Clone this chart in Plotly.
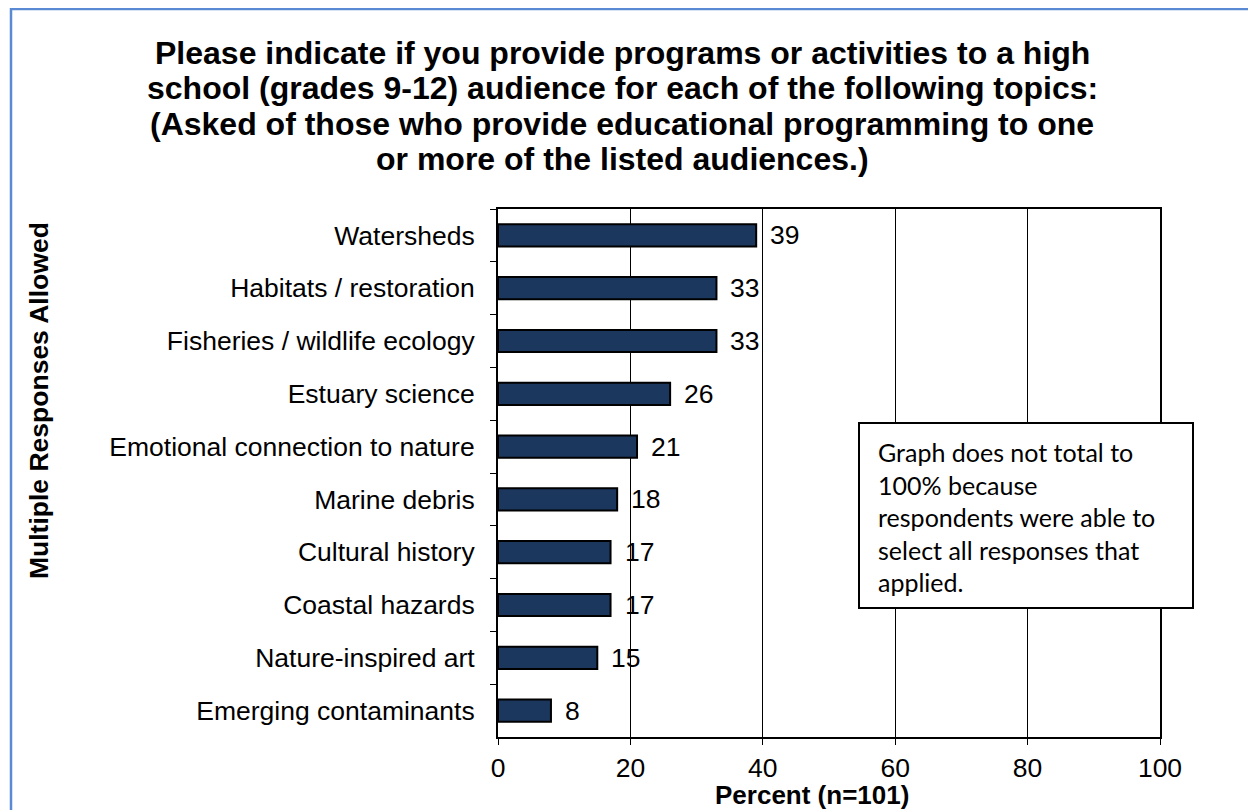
import plotly.graph_objects as go

categories = [
    "Watersheds",
    "Habitats / restoration",
    "Fisheries / wildlife ecology",
    "Estuary science",
    "Emotional connection to nature",
    "Marine debris",
    "Cultural history",
    "Coastal hazards",
    "Nature-inspired art",
    "Emerging contaminants",
]
values = [39, 33, 33, 26, 21, 18, 17, 17, 15, 8]
x_ticks = [0, 20, 40, 60, 80, 100]

title_lines = [
    "Please indicate if you provide programs or activities to a high",
    "school (grades 9-12) audience for each of the following topics:",
    "(Asked of those who provide educational programming to one",
    "or more of the listed audiences.)",
]
note_lines = [
    "Graph does not total to",
    "100% because",
    "respondents were able to",
    "select all responses that",
    "applied.",
]

# page offset (browser body margin)
OFF = 8
W, H = 1256 - OFF, 810 - OFF
# plot area in page pixels
L, R, T, B = 498, 1160, 209, 737

def px(xp):
    return (xp - L) / (R - L)

def py(yp):
    return (B - yp) / (B - T)

ARIAL = "Liberation Sans, Arial, sans-serif"

fig = go.Figure()
fig.add_trace(go.Bar(
    x=values, y=categories, orientation="h",
    marker=dict(color="#1c375e", line=dict(color="black", width=2)),
    width=0.42, hoverinfo="skip",
))

annotations = []
for c, v in zip(categories, values):
    annotations.append(dict(
        x=v, y=c, xref="x", yref="y", text=str(v), showarrow=False,
        xanchor="left", yanchor="middle", xshift=12,
        font=dict(family=ARIAL, size=26.5, color="black"),
    ))

title_y = [52.5, 88, 123.5, 159]
for line, yy in zip(title_lines, title_y):
    annotations.append(dict(
        x=px(622), y=py(yy), xref="paper", yref="paper",
        text=line, showarrow=False,
        xanchor="center", yanchor="middle",
        font=dict(family=ARIAL, size=32, color="black", weight="bold"),
    ))

annotations.append(dict(
    x=px(39), y=py(400), xref="paper", yref="paper",
    text="Multiple Responses Allowed", showarrow=False, textangle=-90,
    xanchor="center", yanchor="middle",
    font=dict(family=ARIAL, size=26.5, color="black", weight="bold"),
))

annotations.append(dict(
    x=px(812), y=py(795), xref="paper", yref="paper",
    text="Percent (n=101)", showarrow=False,
    xanchor="center", yanchor="middle",
    font=dict(family=ARIAL, size=26, color="black", weight="bold"),
))

for i, line in enumerate(note_lines):
    annotations.append(dict(
        x=px(876), y=py(452 + 32.5 * i), xref="paper", yref="paper",
        text=line, showarrow=False, xanchor="left", yanchor="middle",
        font=dict(family="Lato, Carlito, sans-serif", size=25, color="black"),
    ))

shapes = [
    dict(type="rect", xref="paper", yref="paper",
         x0=px(11), x1=px(1290), y0=py(9), y1=py(840),
         line=dict(color="#5b8ad4", width=2.5), fillcolor="rgba(0,0,0,0)", layer="below"),
    dict(type="rect", xref="paper", yref="paper",
         x0=px(859), x1=px(1193), y0=py(608), y1=py(423),
         line=dict(color="black", width=2), fillcolor="white", layer="above"),
]

fig.update_layout(
    width=W, height=H,
    margin=dict(l=L - OFF, r=W - (R - OFF), t=T - OFF, b=H - (B - OFF), autoexpand=False),
    paper_bgcolor="white", plot_bgcolor="white",
    showlegend=False,
    annotations=annotations,
    shapes=shapes,
    xaxis=dict(
        range=[0, 100], tickvals=x_ticks, ticktext=[str(t) for t in x_ticks],
        showgrid=True, gridcolor="black", gridwidth=1,
        showline=True, linecolor="black", linewidth=2, mirror=True,
        ticks="outside", ticklen=6, tickcolor="black", tickwidth=1,
        tickfont=dict(family=ARIAL, size=26.5, color="black"),
        zeroline=False, fixedrange=True,
    ),
    yaxis=dict(
        autorange="reversed", type="category",
        showgrid=False, showline=True, linecolor="black", linewidth=2, mirror=True,
        ticks="outside", tickson="boundaries", ticklen=6, tickcolor="black", tickwidth=1,
        tickfont=dict(family=ARIAL, size=26.5, color="black"),
        ticklabelstandoff=16, fixedrange=True,
    ),
)

fig.write_html("out.html")
